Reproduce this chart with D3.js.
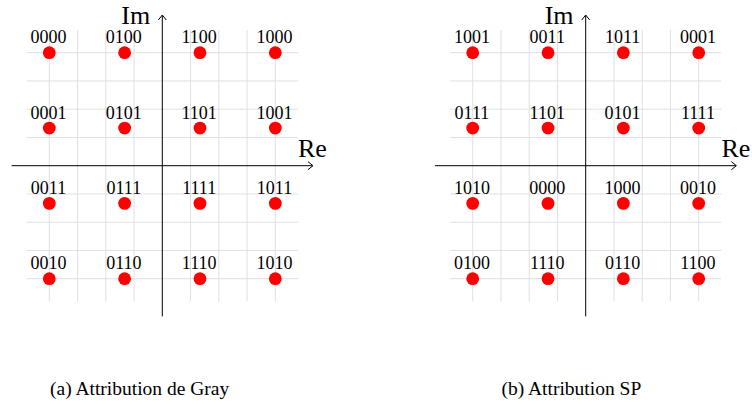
<!DOCTYPE html>
<html>
<head>
<meta charset="utf-8">
<script src="https://cdn.jsdelivr.net/npm/d3@7"></script>
<style>
  html, body { margin: 0; padding: 0; background: #fff; }
  svg { display: block; }
  text { font-family: "Liberation Serif", "DejaVu Serif", serif; fill: #000; }
</style>
</head>
<body>
<svg id="chart" width="752" height="405"></svg>
<script>
// Data
const reValues = [-3, -1, 1, 3];
const imValues = [3, 1, -1, -3];
const grayLabels = [
  ["0000", "0100", "1100", "1000"],
  ["0001", "0101", "1101", "1001"],
  ["0011", "0111", "1111", "1011"],
  ["0010", "0110", "1110", "1010"]
];
const spLabels = [
  ["1001", "0011", "1011", "0001"],
  ["0111", "1101", "0101", "1111"],
  ["1010", "0000", "1000", "0010"],
  ["0100", "1110", "0110", "1100"]
];
const gridTicks = [-3, -2.25, -1.5, -0.75, 0.75, 1.5, 2.25, 3];
const captions = ["(a) Attribution de Gray", "(b) Attribution SP"];

const svg = d3.select("#chart");
const unit = 37.67;
const originY = 165.7;
const serif = "'Liberation Serif', 'DejaVu Serif', serif";

function panel(originX, labels, caption, capX) {
  const x = d3.scaleLinear().domain([-4, 4]).range([originX - 4 * unit, originX + 4 * unit]);
  const y = d3.scaleLinear().domain([-4, 4]).range([originY + 4 * unit, originY - 4 * unit]);
  const g = svg.append("g");
  const gExt = 3.6;

  // grid
  g.selectAll(".vg").data(gridTicks).enter().append("line")
    .attr("x1", d => x(d)).attr("x2", d => x(d))
    .attr("y1", y(gExt)).attr("y2", y(-gExt))
    .attr("stroke", "#e0e0e0").attr("stroke-width", 1);
  g.selectAll(".hg").data(gridTicks).enter().append("line")
    .attr("y1", d => y(d)).attr("y2", d => y(d))
    .attr("x1", x(-gExt)).attr("x2", x(gExt))
    .attr("stroke", "#e0e0e0").attr("stroke-width", 1);

  // axes
  g.append("line").attr("x1", x(-4)).attr("x2", x(4) - 0.5)
    .attr("y1", y(0)).attr("y2", y(0)).attr("stroke", "#000").attr("stroke-width", 1);
  g.append("path")
    .attr("d", `M${x(4) - 5},${y(0) - 4} L${x(4)},${y(0)} L${x(4) - 5},${y(0) + 4}`)
    .attr("fill", "none").attr("stroke", "#000").attr("stroke-width", 1);
  g.append("line").attr("x1", x(0)).attr("x2", x(0))
    .attr("y1", y(-4)).attr("y2", y(4) + 0.5).attr("stroke", "#000").attr("stroke-width", 1);
  g.append("path")
    .attr("d", `M${x(0) - 4},${y(4) + 5} L${x(0)},${y(4)} L${x(0) + 4},${y(4) + 5}`)
    .attr("fill", "none").attr("stroke", "#000").attr("stroke-width", 1);

  g.append("text").attr("x", x(4) - 15).attr("y", y(0) - 9)
    .attr("font-family", serif).attr("font-size", 26).text("Re");
  g.append("text").attr("x", x(0) - 41).attr("y", y(4) + 8.5)
    .attr("font-family", serif).attr("font-size", 26).text("Im");

  // points
  const pts = [];
  imValues.forEach((im, r) => reValues.forEach((re, c) => pts.push({ re, im, label: labels[r][c] })));
  g.selectAll(".dot").data(pts).enter().append("circle")
    .attr("cx", d => x(d.re)).attr("cy", d => y(d.im)).attr("r", 6.4)
    .attr("fill", "#ff0000");
  g.selectAll(".lbl").data(pts).enter().append("text")
    .attr("x", d => x(d.re) - 0.8).attr("y", d => y(d.im) - 9.4)
    .attr("text-anchor", "middle").attr("font-family", serif).attr("font-size", 18)
    .text(d => d.label);

  svg.append("text").attr("x", capX).attr("y", 394.5)
    .attr("font-family", serif).attr("font-size", 19.5)
    .text(caption);
}

panel(162.3, grayLabels, captions[0], 50);
panel(585.7, spLabels, captions[1], 501.5);
</script>
</body>
</html>
